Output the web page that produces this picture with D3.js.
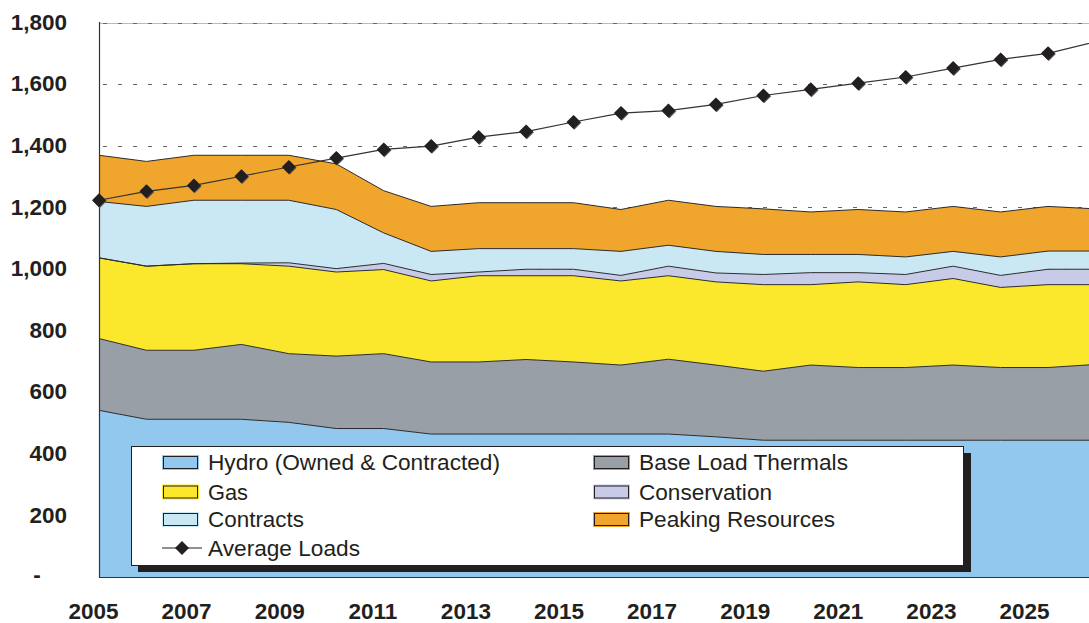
<!DOCTYPE html>
<html><head><meta charset="utf-8">
<script src="https://cdn.jsdelivr.net/npm/d3@7"></script>
<style>
html,body{margin:0;padding:0;background:#fff;}
svg{display:block;font-family:Arial,"Liberation Sans",sans-serif;}
</style></head>
<body><svg id="c" width="1089" height="623"></svg>
<script>
const years = [2005,2006,2007,2008,2009,2010,2011,2012,2013,2014,2015,2016,2017,2018,2019,2020,2021,2022,2023,2024,2025,2026];
const hydro        = [541,512,512,512,502,482,482,464,464,464,464,464,464,455,444,444,444,444,444,444,444,444];
const baseLoad     = [233,224,224,243,223,235,243,234,234,242,234,224,243,233,224,244,236,236,244,236,236,246];
const gas          = [262,273,281,262,284,273,273,263,280,272,280,273,271,270,281,261,278,269,281,260,269,259];
const conservation = [0,0,0,2,11,11,20,21,12,21,21,18,31,29,33,39,30,33,40,39,50,50];
const contracts    = [183,194,206,204,203,192,99,75,76,67,67,78,68,70,65,59,59,57,48,60,59,59];
const peaking      = [150,146,146,146,146,148,137,146,149,149,149,136,146,146,148,138,146,146,146,146,145,137];
const avgLoads     = [1223,1252,1271,1301,1331,1360,1388,1399,1428,1446,1477,1506,1514,1534,1563,1583,1603,1623,1652,1680,1700,1737];
const yTicks = [0,200,400,600,800,1000,1200,1400,1600,1800];
const xTickLabels = [2005,2007,2009,2011,2013,2015,2017,2019,2021,2023,2025];

const seriesKeys = ["hydro","baseLoad","gas","conservation","contracts","peaking"];
const seriesNames = {hydro:"Hydro (Owned & Contracted)", baseLoad:"Base Load Thermals", gas:"Gas",
  conservation:"Conservation", contracts:"Contracts", peaking:"Peaking Resources", load:"Average Loads"};
const colors = {hydro:"#92c8ee", baseLoad:"#999fa6", gas:"#fbe82c", conservation:"#c8cbe8", contracts:"#cae8f4", peaking:"#f0a52c"};
const seriesData = {hydro, baseLoad, gas, conservation, contracts, peaking};

const rows = years.map((yr,i)=>{const r={year:yr}; seriesKeys.forEach(k=>r[k]=seriesData[k][i]); r.load=avgLoads[i]; return r;});

const svg = d3.select("#c");
const x = d3.scaleLinear().domain([2005,2025]).range([99,1048]);
const xLab = d3.scaleLinear().domain([2005,2025]).range([93,1024]);
const y = d3.scaleLinear().domain([0,1800]).range([577,22.5]);

// gridlines
svg.append("g").selectAll("line").data(yTicks.filter(d=>d>0)).join("line")
  .attr("x1",99).attr("x2",1089).attr("y1",d=>Math.round(y(d))+0.5).attr("y2",d=>Math.round(y(d))+0.5)
  .attr("stroke",d=>d===1800?"#bbb":"none").attr("stroke-width",1);
svg.append("g").selectAll("line").data(yTicks.filter(d=>d>0)).join("line")
  .attr("x1",103).attr("x2",1089).attr("y1",d=>Math.round(y(d))+0.5).attr("y2",d=>Math.round(y(d))+0.5)
  .attr("stroke","#666").attr("stroke-width",1).attr("stroke-dasharray","4,11");

// stacked areas
const stack = d3.stack().keys(seriesKeys);
const stacked = stack(rows);
const area = d3.area().x(d=>x(d.data.year)).y0(d=>y(d[0])).y1(d=>y(d[1]));
const topLine = d3.line().x(d=>x(d.data.year)).y(d=>y(d[1]));
svg.append("g").selectAll("path").data(stacked).join("path")
  .attr("d",area).attr("fill",d=>colors[d.key]);
svg.append("g").selectAll("path").data(stacked).join("path")
  .attr("d",topLine).attr("fill","none").attr("stroke","#2b2b2b").attr("stroke-width",1);

// axes lines
svg.append("line").attr("x1",99.5).attr("x2",99.5).attr("y1",22).attr("y2",578).attr("stroke","#333").attr("stroke-width",1.2);
svg.append("line").attr("x1",99).attr("x2",1089).attr("y1",577.5).attr("y2",577.5).attr("stroke","#333").attr("stroke-width",1.2);

// y labels
const yAxis = d3.axisLeft(y).tickValues(yTicks).tickSize(0).tickPadding(0)
  .tickFormat(d=>d===0?"-":d3.format(",")(d));
const yg = svg.append("g").attr("transform","translate(67,0)").call(yAxis);
yg.select(".domain").remove();
yg.selectAll("text").attr("font-size",22.5).attr("font-weight","bold").attr("fill","#231f20")
  .attr("font-family","Arial, 'Liberation Sans', sans-serif").attr("dy","0.3em");
yg.selectAll(".tick").filter(d=>d===0).select("text").attr("text-anchor","middle").attr("x",-30).attr("dy","0.2em");

// x labels
const xAxis = d3.axisBottom(xLab).tickValues(xTickLabels).tickSize(0).tickPadding(0).tickFormat(d3.format("d"));
const xg = svg.append("g").attr("transform","translate(0,603)").call(xAxis);
xg.select(".domain").remove();
xg.selectAll("text").attr("font-size",22.5).attr("font-weight","bold").attr("fill","#231f20")
  .attr("font-family","Arial, 'Liberation Sans', sans-serif").attr("dy","0.73em");

// load line + diamonds
const loadLine = d3.line().x(d=>x(d.year)).y(d=>y(d.load));
svg.append("path").datum(rows).attr("d",loadLine).attr("fill","none").attr("stroke","#333").attr("stroke-width",1.2);
const diamond = "M0,-7L7,0L0,7L-7,0Z";
svg.append("g").selectAll("path").data(rows.filter(d=>d.year<=2025)).join("path")
  .attr("d",diamond).attr("transform",d=>`translate(${x(d.year)+0.8},${y(d.load)+0.8})`).attr("fill","#555");
svg.append("g").selectAll("path").data(rows.filter(d=>d.year<=2025)).join("path")
  .attr("d",diamond).attr("transform",d=>`translate(${x(d.year)},${y(d.load)})`).attr("fill","#231f20");

// legend
const lg = svg.append("g");
lg.append("rect").attr("x",138).attr("y",453).attr("width",833).attr("height",119).attr("fill","#231f20");
lg.append("rect").attr("x",131.5).attr("y",446.5).attr("width",832).attr("height",119).attr("fill","#fff").attr("stroke","#231f20").attr("stroke-width",1);
const legendItems = [
  {k:"hydro",col:0,row:0,w:292},{k:"gas",col:0,row:1,w:40},{k:"contracts",col:0,row:2,w:96},{k:"load",col:0,row:3,w:152},
  {k:"baseLoad",col:1,row:0,w:209},{k:"conservation",col:1,row:1,w:133},{k:"peaking",col:1,row:2,w:196}
];
const rowY = [462.5,492,519.5,548];
const colX = [162,593];
legendItems.forEach(it=>{
  const cx = colX[it.col], cy = rowY[it.row];
  if(it.k==="load"){
    lg.append("line").attr("x1",cx).attr("x2",cx+40).attr("y1",cy).attr("y2",cy).attr("stroke","#231f20").attr("stroke-width",1);
    lg.append("path").attr("d",diamond).attr("transform",`translate(${cx+20},${cy})`).attr("fill","#231f20");
  } else {
    lg.append("rect").attr("x",cx).attr("y",cy-7.5).attr("width",37).attr("height",15).attr("fill",colors[it.k]);
    lg.append("rect").attr("x",cx+1.5).attr("y",cy-6).attr("width",34).attr("height",12).attr("fill",colors[it.k]).attr("stroke","#231f20").attr("stroke-width",1);
  }
  lg.append("text").attr("x",cx+46).attr("y",cy).attr("dy","0.36em").attr("font-size",21.5).attr("fill","#231f20")
    .attr("textLength",it.w).attr("lengthAdjust","spacingAndGlyphs").text(seriesNames[it.k]);
});
</script></body></html>
